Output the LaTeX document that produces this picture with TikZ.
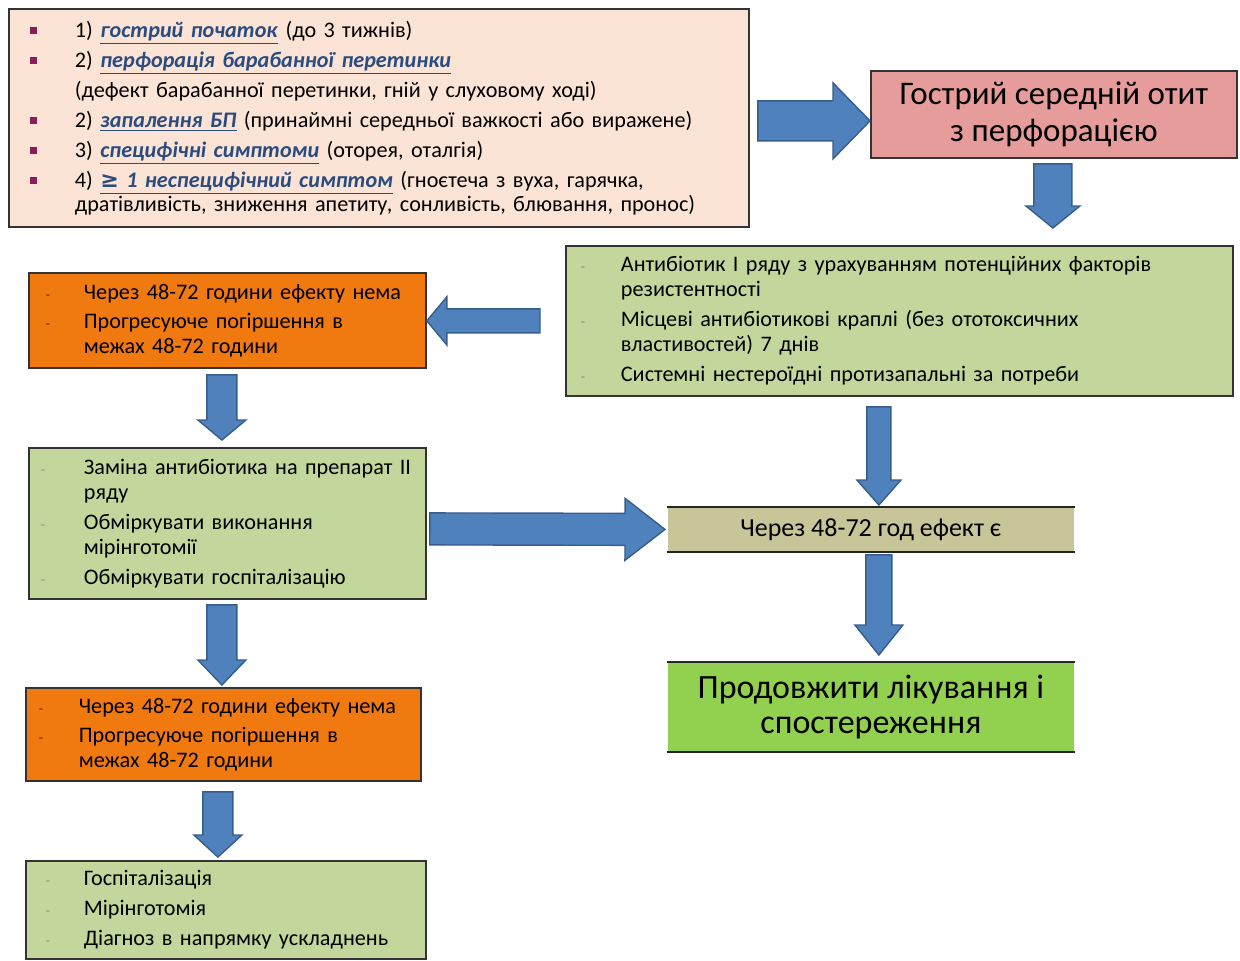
\documentclass[tikz,border=0pt]{standalone}
\usepackage{fontspec}
\setmainfont{Carlito}
\newfontfamily\symfont{DejaVu Sans}
\usetikzlibrary{positioning,calc}

\definecolor{peach}{HTML}{FBE4D5}
\definecolor{redbox}{HTML}{E59C9B}
\definecolor{greenbox}{HTML}{C3D69B}
\definecolor{orangebox}{HTML}{F07A10}
\definecolor{tanbox}{HTML}{C8C598}
\definecolor{limebox}{HTML}{92D050}
\definecolor{arrowblue}{HTML}{4F81BD}
\definecolor{arrowedge}{HTML}{385D8A}
\definecolor{bulmag}{HTML}{8B1C5A}
\definecolor{keyblue}{HTML}{2B4C7E}

% underlined key terms of the criteria list
\newcommand{\kw}[1]{\textcolor{keyblue}{\underline{\textbf{\textit{#1}}}}}
\newcommand{\sqb}{\makebox[22.5pt][l]{\textcolor{bulmag}{\rule[1.8pt]{3.5pt}{3.5pt}}}}
\newcommand{\dsh}[2][black!45]{\makebox[#2][l]{\textcolor{#1}{\scriptsize -}}}

\begin{document}
\begin{tikzpicture}
%\draw (0,0) grid (1240,960);
  [
    x=0.5pt, y=-0.5pt,
    box/.style={draw=black!80, line width=0.9pt, anchor=north west, inner ysep=0pt, align=left,
      font=\fontsize{11.1}{12.5}\selectfont},
    bigtext/.style={draw=black!80, line width=0.9pt, anchor=north west, inner sep=0pt, align=center},
    rule/.style={draw=black!85, line width=1.2pt},
    barrow/.style n args={3}{fill=arrowblue, draw=arrowedge, line width=0.7pt, line join=miter,
      to path={($(\tikztostart)!#1!90:(\tikztotarget)$)
        -- ($(\tikztotarget)!#3!(\tikztostart)!#1!-90:(\tikztostart)$)
        -- ($(\tikztotarget)!#3!(\tikztostart)!#2!-90:(\tikztostart)$)
        -- (\tikztotarget)
        -- ($(\tikztotarget)!#3!(\tikztostart)!#2!90:(\tikztostart)$)
        -- ($(\tikztotarget)!#3!(\tikztostart)!#1!90:(\tikztostart)$)
        -- ($(\tikztostart)!#1!-90:(\tikztotarget)$) -- cycle}},
  ]

  \useasboundingbox (0,0) rectangle (1240,960);

  % criteria
  \node[box, fill=peach, inner xsep=10.5pt, text width=349pt, minimum height=109pt,
        font=\fontsize{11.1}{15}\selectfont] (crit) at (8,8)
    {\sqb 1) \kw{гострий початок} (до 3 тижнів)\\
     \sqb 2) \kw{перфорація барабанної перетинки}\\
     \hspace*{22.5pt}(дефект барабанної перетинки, гній у слуховому ході)\\
     \sqb 2) \kw{запалення БП} (принаймні середньої важкості або виражене)\\
     \sqb 3) \kw{специфічні симптоми} (оторея, оталгія)\\
     \sqb 4) \kw{{\symfont ≥} 1 неспецифічний симптом} (гноєтеча з вуха, гарячка,\\[-3pt]
     \hspace*{22.5pt}дратівливість, зниження апетиту, сонливість, блювання, пронос)};

  \node[bigtext, fill=redbox, minimum width=183pt, minimum height=43.5pt,
        font=\fontsize{16.5}{18.5}\selectfont] (acute) at (870,70)
    {Гострий середній отит\\з перфорацією};

  % first line therapy
  \node[box, fill=greenbox, inner xsep=7.5pt, text width=318.5pt, minimum height=75pt] (abx1) at (565,245)
    {\dsh{20pt}Антибіотик I ряду з урахуванням потенційних факторів\\
     \hspace*{20pt}резистентності\\[2.5pt]
     \dsh{20pt}Місцеві антибіотикові краплі (без ототоксичних\\
     \hspace*{20pt}властивостей) 7 днів\\[2.5pt]
     \dsh{20pt}Системні нестероїдні протизапальні  за потреби};

  \node[box, fill=orangebox, inner xsep=8.5pt, text width=181.5pt, minimum height=47.5pt] (fail1) at (28,272)
    {\dsh[red!60!black]{19pt}Через 48-72 години ефекту нема\\[2pt]
     \dsh[red!60!black]{19pt}Прогресуюче погіршення в\\
     \hspace*{19pt}межах 48-72 години};

  \node[box, fill=greenbox, inner xsep=6pt, text width=186.5pt, minimum height=75.5pt] (sw2) at (28,447)
    {\dsh{21.5pt}Заміна антибіотика на препарат II\\
     \hspace*{21.5pt}ряду\\[2.5pt]
     \dsh{21.5pt}Обміркувати виконання\\
     \hspace*{21.5pt}мірінготомії\\[2.5pt]
     \dsh{21.5pt}Обміркувати госпіталізацію};

  \node[bigtext, draw=none, fill=tanbox, minimum width=203pt, minimum height=21.5pt,
        font=\fontsize{13}{14}\selectfont] (effect) at (667,507) {Через 48-72 год ефект є};
  \draw[rule] (effect.north west) -- (effect.north east) (effect.south west) -- (effect.south east);

  \node[bigtext, draw=none, fill=limebox, minimum width=203pt, minimum height=44pt,
        font=\fontsize{17}{17.5}\selectfont] (cont) at (667,662) {Продовжити лікування і\\спостереження};
  \draw[rule] (cont.north west) -- (cont.north east) (cont.south west) -- (cont.south east);

  \node[box, fill=orangebox, inner xsep=6.5pt, text width=184.5pt, minimum height=46.5pt] (fail2) at (25,687)
    {\dsh[red!60!black]{20pt}Через 48-72 години ефекту нема\\[2pt]
     \dsh[red!60!black]{20pt}Прогресуюче погіршення в\\
     \hspace*{20pt}межах 48-72 години};

  \node[box, fill=greenbox, inner xsep=10pt, text width=180pt, minimum height=49pt,
        font=\fontsize{11.1}{15}\selectfont] (hosp) at (25,860)
    {\dsh{19pt}Госпіталізація\\
     \dsh{19pt}Мірінготомія\\
     \dsh{19pt}Діагноз в напрямку ускладнень};

  % arrow ends
  \coordinate (a1s) at ($(crit.east)+(8,3)$);
  \coordinate (a1t) at ($(acute.west)+(0,6.5)$);
  \coordinate (a2s) at ($(acute.south)+(-1,5)$);
  \coordinate (a2t) at ($(acute.south |- abx1.north)+(-1,-17)$);
  \coordinate (a3s) at ($(abx1.west)+(-25,0)$);
  \coordinate (a3t) at (fail1.east |- a3s);
  \coordinate (a4s) at ($(fail1.south)+(-5.5,6)$);
  \coordinate (a4t) at ($(a4s |- sw2.north)+(0,-7)$);
  \coordinate (a5s) at ($(sw2.east)+(3,5.5)$);
  \coordinate (a5t) at ($(effect.west)+(-2,0)$);
  \coordinate (a6s) at ($(abx1.south)+(-20.5,10)$);
  \coordinate (a6t) at ($(a6s |- effect.north)+(0,-2)$);
  \coordinate (a7s) at ($(effect.south)+(8,3)$);
  \coordinate (a7t) at ($(a7s |- cont.north)+(0,-7)$);
  \coordinate (a8s) at ($(sw2.south)+(-5.5,5)$);
  \coordinate (a8t) at ($(a8s |- fail2.north)+(0,-2)$);
  \coordinate (a9s) at ($(fail2.south)+(-5.5,10)$);
  \coordinate (a9t) at ($(a9s |- hosp.north)+(0,-3)$);

  \foreach \s/\t/\w/\hw/\hl in {a1/a1/10pt/19pt/18.5pt, a2/a2/9.5pt/13.5pt/11pt,
      a3/a3/6pt/12pt/10pt, a4/a4/7.5pt/12pt/10pt, a5/a5/8pt/15.5pt/20pt,
      a6/a6/6pt/11pt/12.5pt, a7/a7/6.5pt/12pt/15pt, a8/a8/7.5pt/12pt/12.5pt,
      a9/a9/7.5pt/12pt/11pt}
    {
     \draw[barrow={\w}{\hw}{\hl}] (\s s) to (\t t);
    }

\end{tikzpicture}
\end{document}
